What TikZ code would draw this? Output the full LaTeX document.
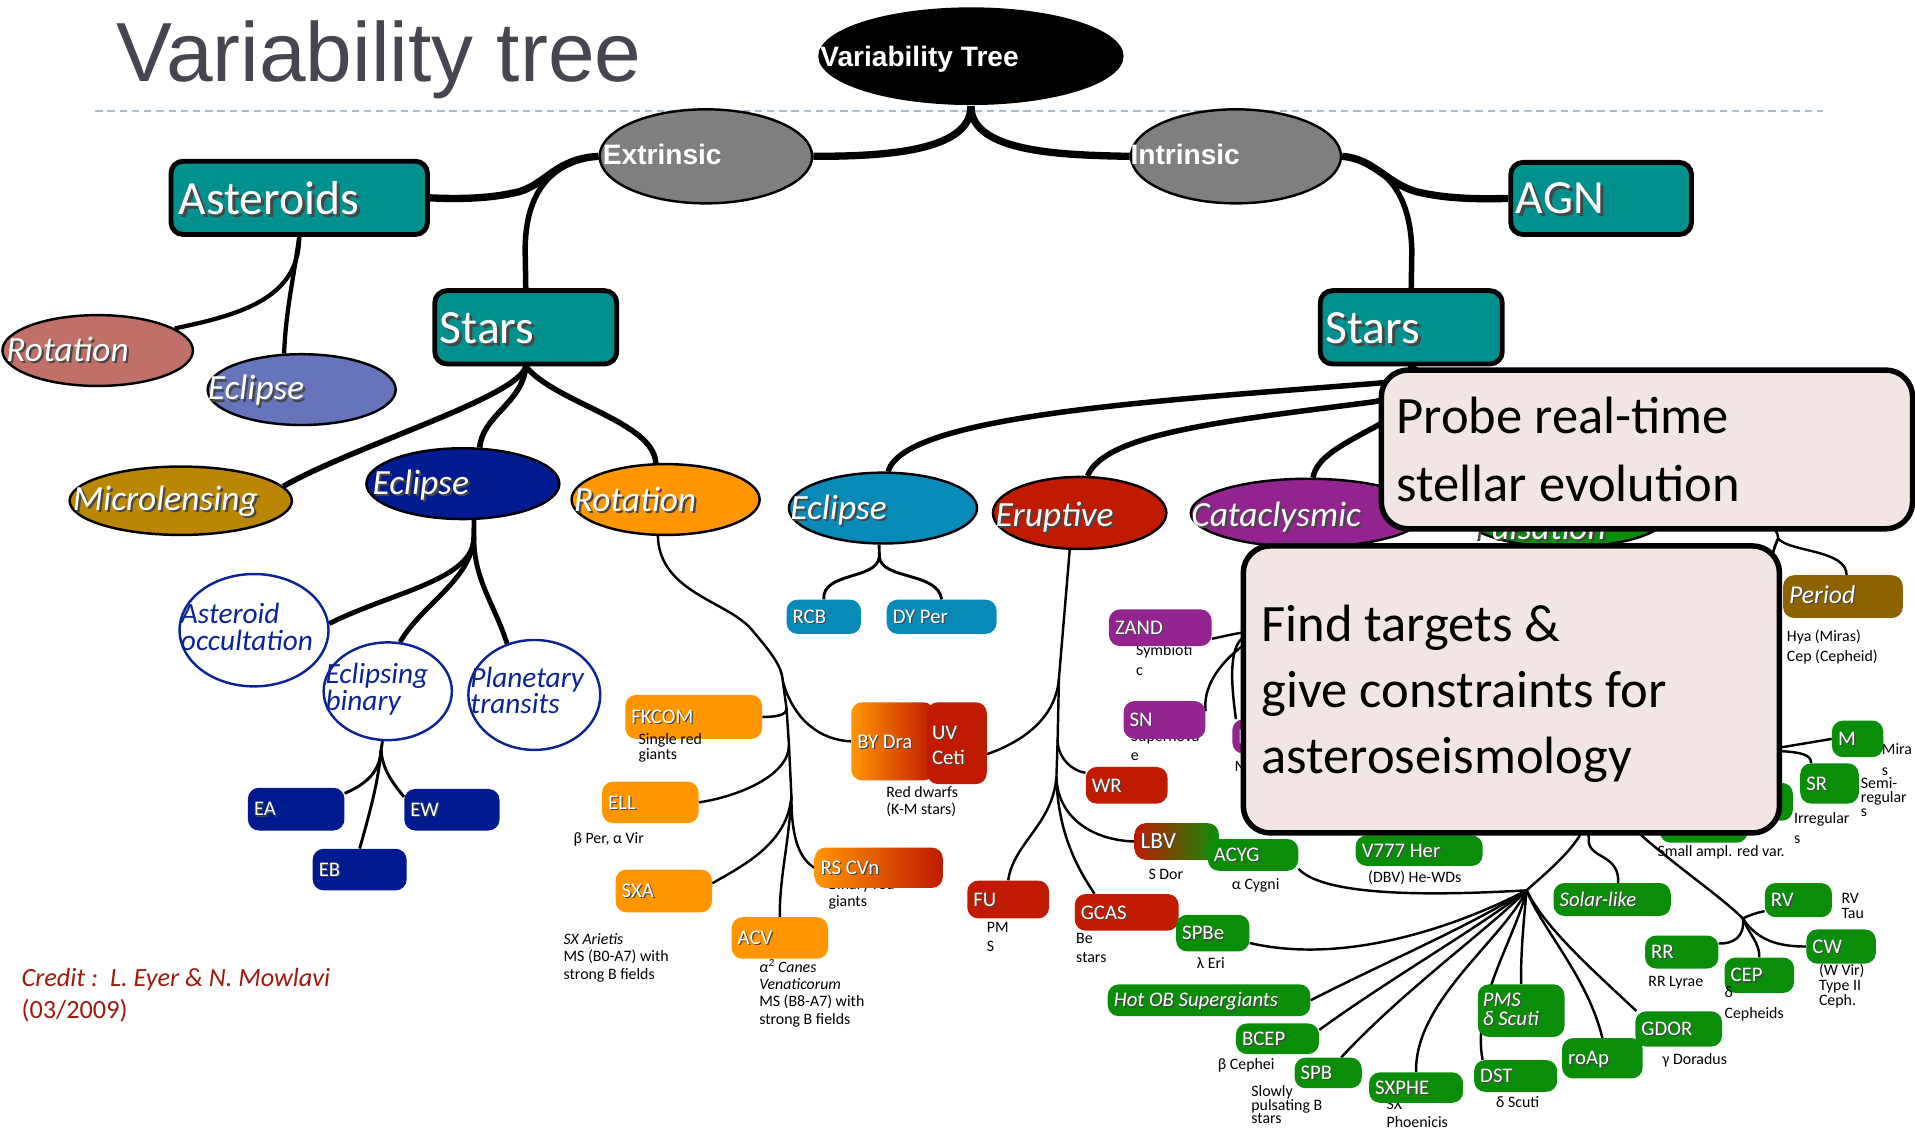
\documentclass[tikz,border=0pt]{standalone}
\usepackage{fontspec}
\setmainfont{Carlito}
\newfontfamily\arialfont{Liberation Sans}
\usetikzlibrary{shapes.geometric}
\pgfdeclarelayer{bg}
\pgfdeclarelayer{front}
\pgfsetlayers{bg,main,front}

\definecolor{teal1}{RGB}{0,145,143}
\definecolor{grayE}{RGB}{127,127,127}
\definecolor{salmon}{RGB}{192,112,104}
\definecolor{lav}{RGB}{102,116,188}
\definecolor{mustard}{RGB}{186,134,4}
\definecolor{navy1}{RGB}{0,26,143}
\definecolor{orng}{RGB}{255,150,0}
\definecolor{cyan1}{RGB}{8,138,184}
\definecolor{red1}{RGB}{192,26,0}
\definecolor{purp}{RGB}{147,36,143}
\definecolor{grn}{RGB}{10,142,10}
\definecolor{brwn}{RGB}{140,99,0}
\definecolor{pinkbox}{RGB}{242,230,228}
\definecolor{blueln}{RGB}{10,36,150}
\definecolor{creditc}{RGB}{160,25,15}
\definecolor{titlec}{RGB}{70,70,80}
\definecolor{dashc}{RGB}{166,188,207}
\definecolor{shadowc}{RGB}{70,70,70}

% white text with a dark drop shadow
\newcommand\sh[1]{\leavevmode\rlap{\kern0.06em\raisebox{-0.06em}{\color{shadowc}#1}}#1}
% ellipse: name, cx, cy, rx, ry, style
\newcommand\ellnode[6]{\node[ell,#6,minimum width={2*#4},minimum height={2*#5}] (#1) at (#2,#3) {};}
% small rounded box: name, x1, y1, x2, y2, style, label
\newcommand\mybox[7]{%
  \node[sbx,#6,minimum width={#4-#2},minimum height={#5-#3}] (#1) at ({(#2+#4)/2},{(#3+#5)/2}) {};%
  \node[blab] (#1-t) at ([xshift=5pt]#1.west) {\sh{#7}};}

% multi-line text nodes are placed by the baseline of their last line
\tikzset{
  ell/.style={ellipse, draw=black, line width=2pt, inner sep=0pt},
  tbx/.style={rectangle, draw=black, line width=4pt, fill=teal1, rounded corners=10pt, inner sep=0pt},
  sbx/.style={rectangle, rounded corners=9pt, inner sep=0pt},
  bigbox/.style={rectangle, draw=black, line width=4.5pt, fill=pinkbox, rounded corners=22pt, inner sep=0pt},
  hlab/.style={anchor=base west, inner sep=0pt, text=white, font=\arialfont\bfseries\fontsize{23}{25}\selectfont},
  tlab/.style={anchor=base west, inner sep=0pt, text=white, font=\fontsize{39}{42}\selectfont},
  elab/.style={anchor=base west, inner sep=0pt, text=white, font=\fontsize{29}{31}\selectfont\itshape},
  clab/.style={anchor=base west, inner sep=0pt, align=left, text=blueln, font=\fontsize{24}{21}\selectfont\itshape},
  blab/.style={anchor=west, inner sep=0pt, text=white, font=\fontsize{17}{19}\selectfont, text height=11pt, text depth=0pt},
  desc/.style={anchor=base west, inner sep=0pt, align=left, font=\fontsize{13}{14.5}\selectfont},
  bigtxt/.style={anchor=base west, inner sep=0pt, align=left, font=\fontsize{43}{55}\selectfont},
  w6/.style={draw=black, line width=6pt},
  w45/.style={draw=black, line width=4.5pt},
  w4/.style={draw=black, line width=4pt},
  w35/.style={draw=black, line width=3.5pt},
  w25/.style={draw=black, line width=2.4pt},
  w2/.style={draw=black, line width=2pt},
}

\begin{document}
\begin{tikzpicture}[x=1pt, y=-1pt]
\useasboundingbox (0,0) rectangle (1568,927);

% ---------- title ----------
\node[anchor=base west, inner sep=0pt, text=titlec, font=\arialfont\fontsize{68.7}{80}\selectfont] (title) at (95,67) {Variability tree};

% ---------- descriptions (drawn first, boxes may overlap them) ----------
\node[desc] (d-ell) at (469.4,690.5) {β Per, α Vir};
\node[desc] (d-sxa) at (461.3,802) {\textit{SX Arietis}\\MS (B0-A7) with\\strong B fields};
\node[desc, font=\fontsize{13}{14.2}\selectfont] (d-acv) at (621.5,838.7) {\textit{α\textsuperscript{2} Canes}\\\textit{Venaticorum}\\MS (B8-A7) with\\strong B fields};
\node[desc] (d-rscvn) at (678.2,742.5) {Binary red\\giants};
\node[desc, font=\fontsize{13}{13.7}\selectfont] (d-bydra) at (725.5,666.6) {Red dwarfs\\(K-M stars)};
\node[desc, font=\fontsize{13}{15.8}\selectfont] (d-zand) at (930.1,552.9) {Symbioti\\c};
\node[desc, font=\fontsize{13}{16}\selectfont] (d-sn) at (925.8,623) {Supernova\\e};
\node[desc] (d-n) at (1011,632) {N};
\node[desc, font=\fontsize{13}{15.8}\selectfont] (d-fu) at (807.9,779.2) {PM\\S};
\node[desc, font=\fontsize{13}{15.8}\selectfont] (d-gcas) at (881,788.2) {Be\\stars};
\node[desc] (d-lbv) at (940.2,720) {S Dor};
\node[desc] (d-acyg) at (1008.5,728.2) {α Cygni};
\node[desc] (d-spbe) at (979.8,792.9) {λ Eri};
\node[desc] (d-v777) at (1120.1,722.7) {(DBV) He-WDs};
\node[desc] (d-sarv) at (1357,701.4) {Small ampl. red var.};
\node[desc, font=\fontsize{13}{16.4}\selectfont] (d-irr) at (1468.8,690.4) {Irregular\\s};
\node[desc, font=\fontsize{13}{17}\selectfont] (d-m) at (1540.7,635) {Mira\\s};
\node[desc, font=\fontsize{13}{11.7}\selectfont] (d-sr) at (1523.5,668.9) {Semi-\\regular\\s};
\node[desc, font=\fontsize{13}{15.8}\selectfont] (d-period) at (1462.9,541.3) {Hya (Miras)\\Cep (Cepheid)};
\node[desc, font=\fontsize{13}{12.5}\selectfont] (d-rv) at (1507.6,752.2) {RV\\Tau};
\node[desc] (d-rr) at (1349.5,807.4) {RR Lyrae};
\node[desc, font=\fontsize{13}{12.3}\selectfont] (d-cw) at (1489.2,823.1) {(W Vir)\\Type II\\Ceph.};
\node[desc] (d-bcep) at (997,875.6) {β Cephei};
\node[desc, font=\fontsize{13}{11.4}\selectfont] (d-spb) at (1024.4,920.3) {Slowly\\pulsating B\\stars};
\node[desc, font=\fontsize{13}{15}\selectfont] (d-sxphe) at (1135.1,923.4) {SX\\Phoenicis};
\node[desc] (d-dst) at (1224.9,907) {δ Scuti};
\node[desc] (d-gdor) at (1361,871.5) {γ Doradus};

% credit line
\node[anchor=base west, inner sep=0pt, align=left, text=creditc, font=\fontsize{21.5}{25.9}\selectfont] (credit) at (17.5,833.8) {\textit{Credit :\ \ L. Eyer \& N. Mowlavi}\\(03/2009)};

% ---------- top levels ----------
\ellnode{root}{795}{46}{125}{40}{fill=black, draw=none}
\node[hlab] (root-t) at (671.5,54.6) {Variability Tree};
\ellnode{ext}{578}{128}{87}{38.5}{fill=grayE}
\node[hlab] (ext-t) at (493.5,135) {Extrinsic};
\ellnode{int}{1012}{128}{86}{38.5}{fill=grayE}
\node[hlab] (int-t) at (925.5,135) {Intrinsic};

\node[tbx, minimum width=210, minimum height=60] (ast) at (245,162) {};
\node[tlab] (ast-t) at (146,176) {\sh{Asteroids}};
\node[tbx, minimum width=149, minimum height=60] (starsL) at (430.5,268) {};
\node[tlab] (starsL-t) at (360,281) {\sh{Stars}};
\node[tbx, minimum width=148, minimum height=59] (agn) at (1311,162.5) {};
\node[tlab] (agn-t) at (1241,174.7) {\sh{AGN}};
\node[tbx, minimum width=149, minimum height=60] (starsR) at (1155.5,268) {};
\node[tlab] (starsR-t) at (1085,281) {\sh{Stars}};

% ---------- class ellipses ----------
\ellnode{astrot}{80}{287}{78}{29}{fill=salmon}
\node[elab] (astrot-t) at (5,296) {\sh{Rotation}};
\ellnode{astecl}{247}{319}{77}{29}{fill=lav}
\node[elab] (astecl-t) at (170,327.5) {\sh{Eclipse}};
\ellnode{micro}{148}{410}{91}{28}{fill=mustard}
\node[elab] (micro-t) at (59.5,417.6) {\sh{Microlensing}};
\ellnode{eclD}{379}{396}{79}{29}{fill=navy1}
\node[elab] (eclD-t) at (304.8,405) {\sh{Eclipse}};
\ellnode{rotO}{545}{409}{77}{29}{fill=orng}
\node[elab] (rotO-t) at (469.6,419) {\sh{Rotation}};
\ellnode{eclT}{723}{416}{77}{29}{fill=cyan1}
\node[elab] (eclT-t) at (646.9,425.2) {\sh{Eclipse}};
\ellnode{erup}{884}{420}{71}{29.5}{fill=red1}
\node[elab] (erup-t) at (815,430.7) {\sh{Eruptive}};
\ellnode{cata}{1071}{420}{96}{28}{fill=purp}
\node[elab] (cata-t) at (975.2,431.2) {\sh{Cataclysmic}};
\ellnode{puls}{1282}{420}{85}{28}{fill=grn}
\node[elab] (puls-t) at (1206,442) {\sh{Pulsation}};

% ---------- eclipse circles ----------
\ellnode{occ}{208}{516}{61}{46}{fill=white, draw=blueln}
\node[clab, font=\fontsize{24}{22.4}\selectfont\itshape] (occ-t) at (148,532.8) {Asteroid\\occultation};
\ellnode{ebin}{317.5}{566}{52.5}{40}{fill=white, draw=blueln}
\node[clab, font=\fontsize{24}{19.5}\selectfont\itshape] (ebin-t) at (266.4,581.8) {Eclipsing\\binary};
\ellnode{ptr}{437.5}{569}{54}{45}{fill=white, draw=blueln}
\node[clab, font=\fontsize{24}{20.2}\selectfont\itshape] (ptr-t) at (385,584.6) {Planetary\\transits};

% ---------- small boxes ----------
\mybox{EA}{203}{645}{282}{680}{fill=navy1}{EA}
\mybox{EW}{331}{646}{409}{680}{fill=navy1}{EW}
\mybox{EB}{256}{695}{333}{729}{fill=navy1}{EB}

\mybox{FKCOM}{512}{569}{624}{605}{fill=orng}{FKCOM}
\node[desc, font=\fontsize{13}{12.5}\selectfont] (d-fkcom) at (522.7,621.7) {Single red\\giants};
\mybox{ELL}{493}{640}{572}{674}{fill=orng}{ELL}
\mybox{SXA}{504}{712}{583}{747}{fill=orng}{SXA}
\mybox{ACV}{599}{751}{678}{785}{fill=orng}{ACV}
\mybox{RSCVn}{667}{694}{772}{727}{left color=orng, middle color=orng!75!red1, right color=red1}{RS CVn}
\mybox{BYDra}{697}{575}{765}{639}{left color=orng, right color=red1}{BY Dra}
\node[sbx, fill=red1, minimum width=49, minimum height=67] (UVCeti) at (783.5,608.5) {};
\node[anchor=base west, inner sep=0pt, align=left, text=white, font=\fontsize{17}{20.2}\selectfont] (UVCeti-t) at (763,625.6) {\sh{UV}\\\sh{Ceti}};

\mybox{RCB}{644}{491}{705}{519}{fill=cyan1}{RCB}
\mybox{DYPer}{726}{491}{816}{519}{fill=cyan1}{DY Per}

\mybox{WR}{889}{628}{956}{658}{fill=red1}{WR}
\mybox{FU}{792}{721}{859}{752}{fill=red1}{FU}
\mybox{GCAS}{880}{732}{965}{762}{fill=red1}{GCAS}
\mybox{LBV}{929}{674}{998}{704}{left color=red1, right color=grn}{\fontsize{19}{21}\selectfont LBV}

\mybox{ZAND}{908}{499}{992}{529}{fill=purp}{ZAND}
\mybox{SN}{920}{574}{987}{605}{fill=purp}{SN}
\mybox{Nb}{1009}{589}{1050}{617}{fill=purp}{N}

\mybox{ACYG}{989}{687}{1063}{713}{fill=grn}{ACYG}
\mybox{V777}{1110}{684}{1214}{709}{fill=grn}{V777 Her}
\mybox{SPBe}{963}{749}{1023}{779}{fill=grn}{SPBe}
\mybox{HotOB}{907}{806}{1073}{832}{fill=grn}{\itshape Hot OB Supergiants}
\mybox{BCEP}{1012}{838}{1080}{863}{fill=grn}{BCEP}
\mybox{SPB}{1060}{866}{1115}{891}{fill=grn}{SPB}
\mybox{SXPHE}{1121}{878}{1198}{903}{fill=grn}{SXPHE}
\node[sbx, fill=grn, minimum width=71, minimum height=43] (PMS) at (1245.5,827.5) {};
\node[anchor=base west, inner sep=0pt, align=left, text=white, font=\fontsize{17}{15.6}\selectfont\itshape] (PMS-t) at (1213.9,839.8) {\sh{PMS}\\\sh{δ Scuti}};
\mybox{DST}{1207}{868}{1275}{894}{fill=grn}{DST}
\mybox{roAp}{1279}{850}{1345}{883}{fill=grn}{roAp}
\mybox{GDOR}{1339}{828}{1410}{857}{fill=grn}{GDOR}
\mybox{Solar}{1272}{723}{1368}{750}{fill=grn}{\itshape Solar-like}
\mybox{RR}{1347}{766}{1407}{793}{fill=grn}{RR}
\mybox{CEP}{1412}{784}{1469}{813}{fill=grn}{CEP}
\node[desc, font=\fontsize{13}{17}\selectfont] (d-cep) at (1411.9,834) {δ\\Cepheids};
\mybox{RV}{1445}{723}{1500}{751}{fill=grn}{RV}
\mybox{CW}{1479}{761}{1536}{789}{fill=grn}{CW}
\mybox{M}{1500}{590}{1542}{620}{fill=grn}{M}
\mybox{SR}{1474}{625}{1522}{658}{fill=grn}{SR}
\mybox{IRR}{1400}{641}{1468}{672}{fill=grn}{}
\mybox{SARV}{1359}{645}{1431}{690}{fill=grn}{}
\mybox{Period}{1460}{471}{1558}{506}{fill=brwn}{\fontsize{21}{23}\selectfont\itshape Period}

% ---------- branch points ----------
\coordinate (dj) at (388,440);
\coordinate (bj) at (312,614);
\coordinate (rj1) at (641,558);
\coordinate (rj2) at (644,580);
\coordinate (rj3) at (646,610);
\coordinate (rj4) at (648,652);
\coordinate (tj) at (720,456);
\coordinate (ej1) at (867,556);
\coordinate (ej2) at (866,606);
\coordinate (ej3) at (865,636);
\coordinate (pj) at (1456,441);
\coordinate (hub) at (1250,729);
\coordinate (rvh) at (1427,752);

% ---------- connectors ----------
\begin{pgfonlayer}{bg}
\fill[white] (0,0) rectangle (1568,927);
\draw[dashc, line width=1.5pt, dash pattern=on 6pt off 4pt] (78,91) -- (1493,91);

\draw[w6] (root.south) .. controls (795,125) and (720,128) .. (ext.east);
\draw[w6] (root.south) .. controls (795,125) and (870,127) .. (int.west);

\draw[w6] (ext.west) .. controls (455,130) and (448,150) .. (425,157) .. controls (400,163) and (375,163) .. (ast.east);
\draw[w45] (ext.west) .. controls (445,133) and (430,165) .. (430,205) -- (starsL.north);
\draw[w6] (int.east) .. controls (1125,130) and (1135,150) .. (1160,157) .. controls (1185,163) and (1210,163) .. (agn.west);
\draw[w45] (int.east) .. controls (1140,135) and (1155,165) .. (1156,205) -- (starsR.north);

\draw[w35] (ast.south) .. controls (245,245) and (195,258) .. (astrot.16);
\draw[w35] (ast.south) .. controls (240,230) and (234,255) .. (astecl.116);

\draw[w45] (starsL.south) .. controls (425,325) and (290,365) .. (micro.8);
\draw[w45] (starsL.south) .. controls (428,330) and (395,340) .. (eclD.65);
\draw[w45] (starsL.south) .. controls (455,330) and (535,345) .. (rotO.105);

\draw[w4] (eclD.-73) -- (dj);
\draw[w4] (dj) .. controls (388,475) and (320,485) .. (occ.5);
\draw[w4] (dj) .. controls (386,475) and (345,495) .. (ebin.76);
\draw[w4] (dj) .. controls (388,475) and (405,495) .. (ptr.118);

\draw[w25] (ebin.-96) -- (bj);
\draw[w25] (bj) .. controls (311,632) and (300,642) .. (EA.18);
\draw[w25] (bj) .. controls (310,640) and (302,668) .. (EB.north);
\draw[w25] (bj) .. controls (313,632) and (325,645) .. (EW.165);

\draw[w2] (rotO.-102) .. controls (540,485) and (595,492) .. (615,515) .. controls (632,535) and (640,545) .. (rj1) -- (rj2) -- (rj3) -- (rj4);
\draw[w2] (rj1) .. controls (650,590) and (672,606) .. (BYDra.west);
\draw[w2] (rj2) .. controls (644,586) and (635,587) .. (FKCOM.east);
\draw[w2] (rj3) .. controls (646,635) and (605,652) .. (ELL.east);
\draw[w2] (rj4) .. controls (645,690) and (610,708) .. (SXA.9);
\draw[w2] (rj4) .. controls (646,690) and (638,720) .. (ACV.north);
\draw[w2] (rj4) .. controls (648,688) and (655,703) .. (RSCVn.west);

\draw[w25] (eclT.-96) -- (tj);
\draw[w25] (tj) .. controls (718,475) and (673,468) .. (RCB.north);
\draw[w25] (tj) .. controls (722,475) and (768,468) .. (DYPer.north);

\draw[w45] (starsR.south) .. controls (1155,310) and (1140,313) .. (1125,314) .. controls (950,328) and (740,340) .. (eclT.82);
\draw[w45] (starsR.south) .. controls (1153,318) and (1140,326) .. (1125,329) .. controls (1000,345) and (905,355) .. (erup.78);
\draw[w45] (starsR.south) .. controls (1152,330) and (1140,342) .. (1125,350) .. controls (1097,365) and (1078,375) .. (cata.82);
\draw[w45] (starsR.south) .. controls (1200,330) and (1280,360) .. (puls.north);

\draw[w2] (erup.-105) -- (ej1) -- (ej2) -- (ej3);
\draw[w2] (ej1) .. controls (864,590) and (835,608) .. (UVCeti.-20);
\draw[w2] (ej2) .. controls (866,622) and (880,632) .. (WR.163);
\draw[w2] (ej3) .. controls (866,670) and (895,688) .. (LBV.west);
\draw[w2] (ej3) .. controls (862,675) and (830,690) .. (FU.north);
\draw[w2] (ej3) .. controls (866,685) and (885,715) .. (GCAS.150);

\draw[w2] (cata.-95) .. controls (1065,500) and (1035,514) .. (1017,518) .. controls (1005,520) and (998,522) .. (ZAND.-12);
\draw[w2] (cata.-95) .. controls (1065,505) and (1035,518) .. (1020,527) .. controls (995,545) and (985,565) .. (SN.12);
\draw[w2] (cata.-95) .. controls (1060,500) and (1030,515) .. (1018,522) .. controls (1006,530) and (1008,560) .. (Nb.141);

\draw[w2] (puls.east) .. controls (1400,420) and (1456,420) .. (pj);
\draw[w2] (pj) .. controls (1465,452) and (1512,450) .. ([xshift=3pt]Period.north);
\draw[w2] (pj) .. controls (1440,470) and (1440,600) .. (1458,612) -- (M.west);
\draw[w2] (pj) .. controls (1440,470) and (1440,610) .. (1458,615) .. controls (1475,616) and (1483,618) .. (SR.132);
\draw[w2] (puls.south) .. controls (1290,600) and (1300,670) .. (1293,685) .. controls (1282,702) and (1262,718) .. (hub);
\draw[w2] (puls.south) .. controls (1295,600) and (1300,660) .. (1301,690) .. controls (1303,703) and (1326,700) .. (Solar.70);
\draw[w2] (puls.south) .. controls (1300,600) and (1330,668) .. (1345,685) .. controls (1380,715) and (1410,735) .. (rvh);
\draw[w2] (rvh) .. controls (1433,749) and (1440,747) .. (RV.198);
\draw[w2] (rvh) .. controls (1429,768) and (1418,773) .. (RR.13);
\draw[w2] (rvh) .. controls (1432,765) and (1441,772) .. (CEP.north);
\draw[w2] (rvh) .. controls (1440,772) and (1460,775) .. (CW.west);

\draw[w2] (ACYG.-17) .. controls (1085,735) and (1180,733) .. (hub);
\draw[w2] (SPBe.-15) .. controls (1100,790) and (1190,760) .. (hub);
\draw[w2] (HotOB.east) .. controls (1140,785) and (1200,760) .. (hub);
\draw[w2] (BCEP.12) .. controls (1140,800) and (1210,760) .. (hub);
\draw[w2] (SPB.50) .. controls (1150,810) and (1220,760) .. (hub);
\draw[w2] (SXPHE.north) .. controls (1158,820) and (1230,770) .. (hub);
\draw[w2] (PMS.north) .. controls (1245,780) and (1248,750) .. (hub);
\draw[w2] (DST.154) .. controls (1205,820) and (1240,770) .. (hub);
\draw[w2] (roAp.north) .. controls (1300,800) and (1262,760) .. (hub);
\draw[w2] (GDOR.157) .. controls (1305,795) and (1265,760) .. (hub);
\end{pgfonlayer}

% ---------- call-out boxes ----------
\begin{pgfonlayer}{front}
\node[bigbox, minimum width=435, minimum height=130] (probe) at (1348.5,368) {};
\node[bigtxt, font=\fontsize{43}{56}\selectfont] (probe-t) at (1143.3,410.8) {Probe real-time\\stellar evolution};
\node[bigbox, minimum width=439, minimum height=235] (find) at (1237.5,564.5) {};
\node[bigtxt, font=\fontsize{43}{54}\selectfont] (find-t) at (1032.7,633.4) {Find targets \&\\give constraints for\\asteroseismology};
\end{pgfonlayer}
\end{tikzpicture}
\end{document}
